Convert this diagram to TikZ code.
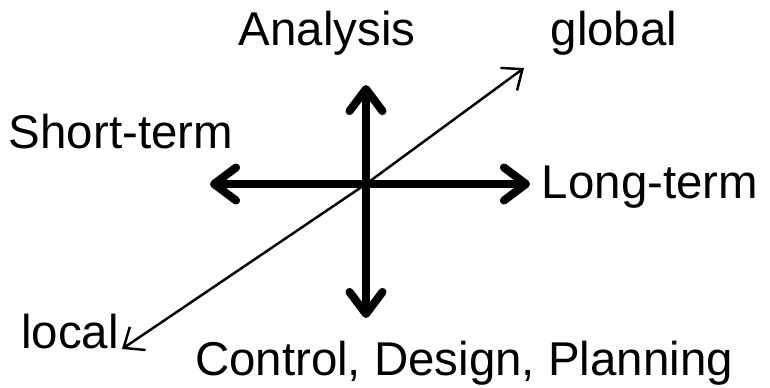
\documentclass[tikz,border=0pt]{standalone}
\usepackage{fontspec}
\setmainfont{Liberation Sans}
\usetikzlibrary{arrows.meta}

\begin{document}
\begin{tikzpicture}[
  x=0.02cm, y=-0.02cm,
  lbl/.style={anchor=base, inner sep=0pt, font=\fontsize{27}{32}\selectfont},
  axis/.style={line width=4.6pt, -{Straight Barb[round, length=4.4mm, width=6.6mm]}},
  diag/.style={line width=1.4pt, -{Straight Barb[length=3.4mm, width=5.6mm]}},
]
  \useasboundingbox (0,0) rectangle (770,387);
  % axis ends
  \coordinate (ctr) at (366,184);
  \coordinate (up) at (366,85);
  \coordinate (down) at (366,318);
  \coordinate (left) at (210,184);
  \coordinate (right) at (530,184);
  \coordinate (ll) at (122,349);
  \coordinate (ur) at (524,68);
  % labels
  \node[lbl] (analysis) at (327,45) {Analysis};
  \node[lbl] (global) at (614,45) {global};
  \node[lbl] (short) at (121,148) {Short-term};
  \node[lbl] (long) at (650,198) {Long-term};
  \node[lbl] (local) at (70,348) {local};
  \node[lbl] (cdp) at (464,375) {Control, Design, Planning};
  % arrows
  \draw[axis] (ctr) -- (up);
  \draw[axis] (ctr) -- (down);
  \draw[axis] (ctr) -- (left);
  \draw[axis] (ctr) -- (right);
  \draw[diag] (ctr) -- (ur);
  \draw[diag] (ctr) -- (ll);
\end{tikzpicture}
\end{document}
